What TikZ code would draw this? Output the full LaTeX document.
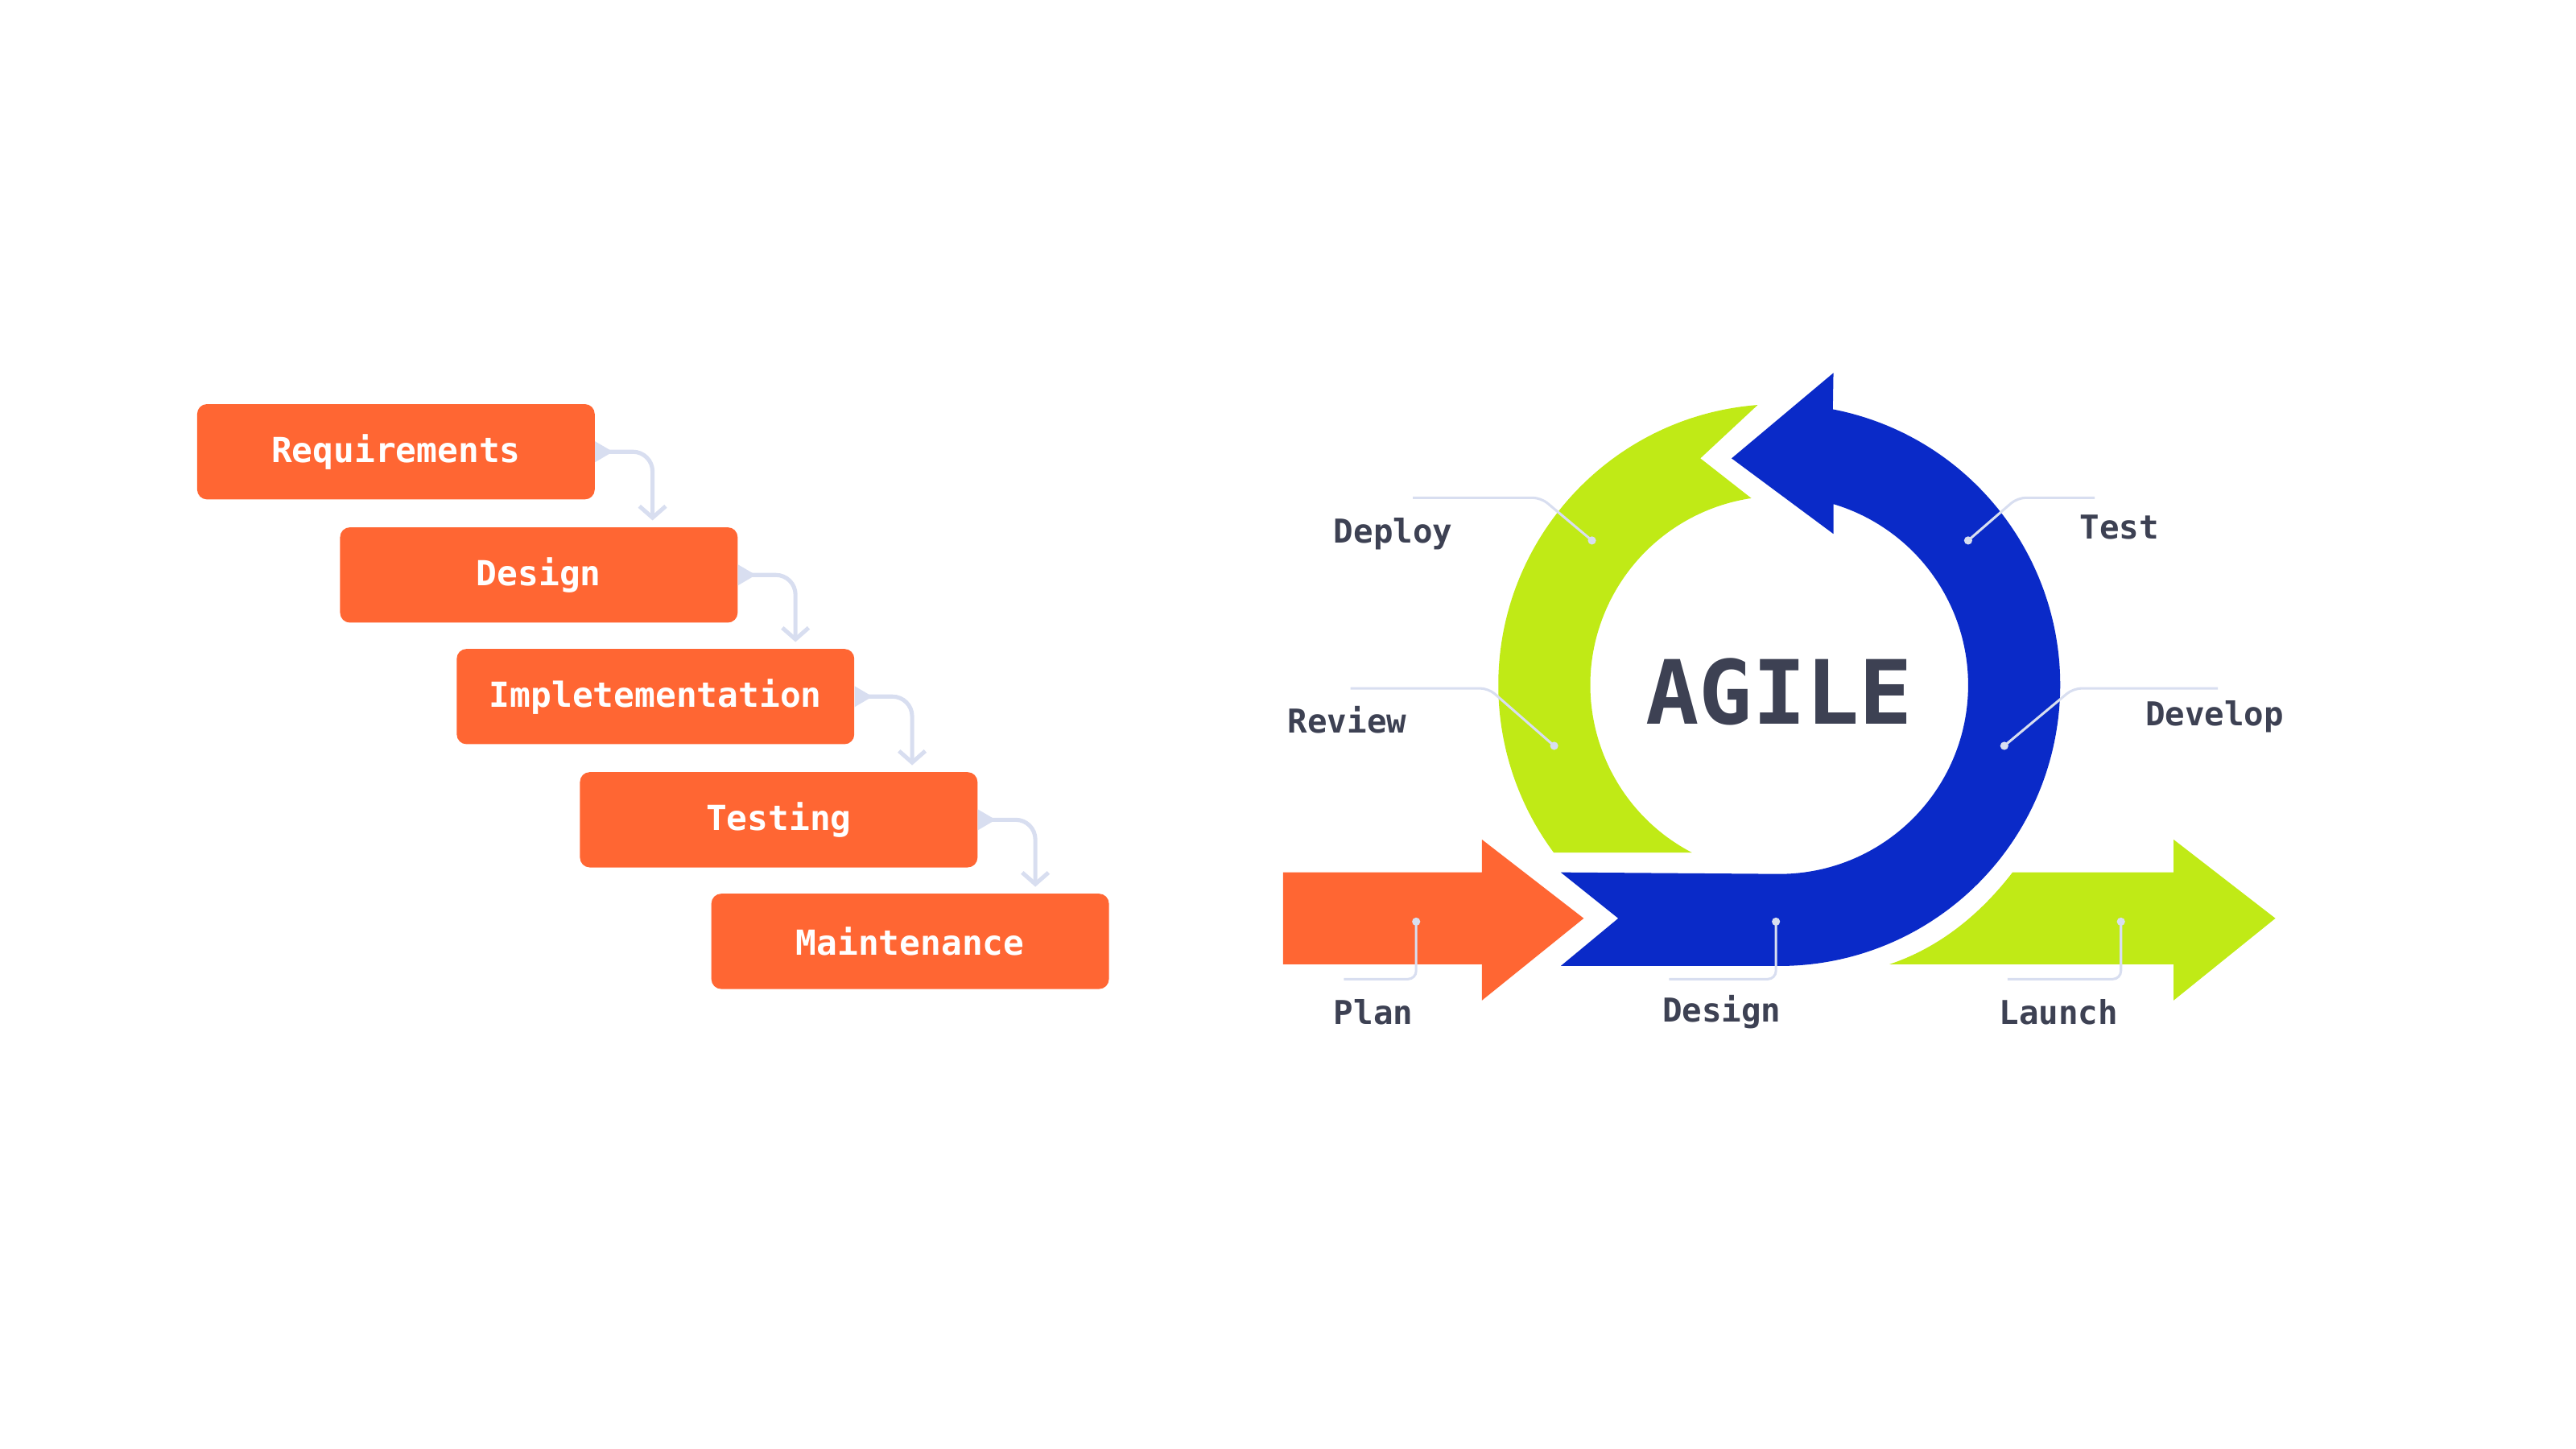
\documentclass[tikz,border=0pt]{standalone}
\usepackage{fontspec}
\setmonofont{DejaVu Sans Mono}
\usetikzlibrary{arrows.meta,calc}
\definecolor{wfor}{HTML}{FF6633}
\definecolor{agblue}{HTML}{0A2AC8}
\definecolor{aggreen}{HTML}{C0EA16}
\definecolor{txt}{HTML}{3D4153}
\definecolor{lead}{HTML}{D8DEF0}
\tikzset{
  wbox/.style={fill=wfor,rounded corners=6pt,minimum width=242pt,minimum height=58pt,inner sep=0pt,text=white,font=\ttfamily\bfseries\fontsize{21}{24}\selectfont},
  conn/.style={draw=lead,line width=2.5pt,rounded corners=12pt,{Triangle[reversed,length=11pt,width=12pt]}-{Straight Barb[length=7pt,width=16pt]}},
  lbl/.style={text=txt,font=\ttfamily\bfseries\fontsize{20}{24}\selectfont},
  ldr/.style={draw=lead,line width=1.5pt,rounded corners=5pt},
  ldot/.style={fill=lead}
}
\begin{document}
\begin{tikzpicture}[x=1pt,y=1pt]
\useasboundingbox (0,0) rectangle (1568,882);
% waterfall
\node[wbox] (r1) at (241,607) {Requirements};
\node[wbox] (r2) at (328,532) {Design};
\node[wbox] (r3) at (399,458) {Impletementation};
\node[wbox] (r4) at (474,383) {Testing};
\node[wbox] (r5) at (554,309) {Maintenance};
\foreach \a/\b in {r1/r2,r2/r3,r3/r4,r4/r5}{
  \coordinate (c\a) at ($(\a.east |- \b.north)+(35,4)$);
  \draw[conn] (\a.east) -| (c\a);
}
% agile
\coordinate (O) at (1083,465);
\fill[aggreen] ($(O)+(94.4:171)$) arc[start angle=94.4,end angle=216.6,radius=171]
  -- ($(O)+(242.5:115)$) arc[start angle=242.5,end angle=98.5,radius=115]
  -- (1035,603) -- cycle;
\fill[agblue] (1054,603) -- (1116,655) -- ($(O)+(79:171)$)
  arc[start angle=79,end angle=-90,radius=171] -- (950,294) -- (985,323) -- (950,351)
  -- ($(O)+(-90:115)$) arc[start angle=-90,end angle=73.3,radius=115] -- (1116,557) -- cycle;
\fill[wfor] (781,295) -- (902,295) -- (902,273) -- (964,323) -- (902,371) -- (902,351) -- (781,351) -- cycle;
\fill[aggreen] (1150,295) -- (1323,295) -- (1323,273) -- (1385,323) -- (1323,371) -- (1323,351) -- (1225,351)
  .. controls (1205,325) and (1180,305) .. (1150,295) -- cycle;
\node[text=txt,font=\ttfamily\bfseries\fontsize{54}{60}\selectfont] (agile) at (1083,461) {AGILE};
% labels
\node[lbl] (deploy) at (848,557) {Deploy};
\node[lbl] (review) at (820,444) {Review};
\node[lbl] (test) at (1290,561) {Test};
\node[lbl] (develop) at (1348,446) {Develop};
\node[lbl] (plan) at (836,266) {Plan};
\node[lbl] (design) at (1048,266) {Design};
\node[lbl] (launch) at (1253,266) {Launch};
% leaders
\draw[ldr] (969,553) -- (938,579) -- (860,579);
\draw[ldr] (946,428) -- (906,463) -- (822,463);
\draw[ldr] (1198,553) -- (1228,579) -- (1275,579);
\draw[ldr] (1220,428) -- (1262,463) -- (1350,463);
\draw[ldr] (862,321) -- (862,286) -- (818,286);
\draw[ldr] (1081,321) -- (1081,286) -- (1016,286);
\draw[ldr] (1291,321) -- (1291,286) -- (1222,286);
\foreach \p in {(969,553),(946,428),(1198,553),(1220,428),(862,321),(1081,321),(1291,321)}
  \fill[ldot] \p circle (2.5);
\end{tikzpicture}
\end{document}
